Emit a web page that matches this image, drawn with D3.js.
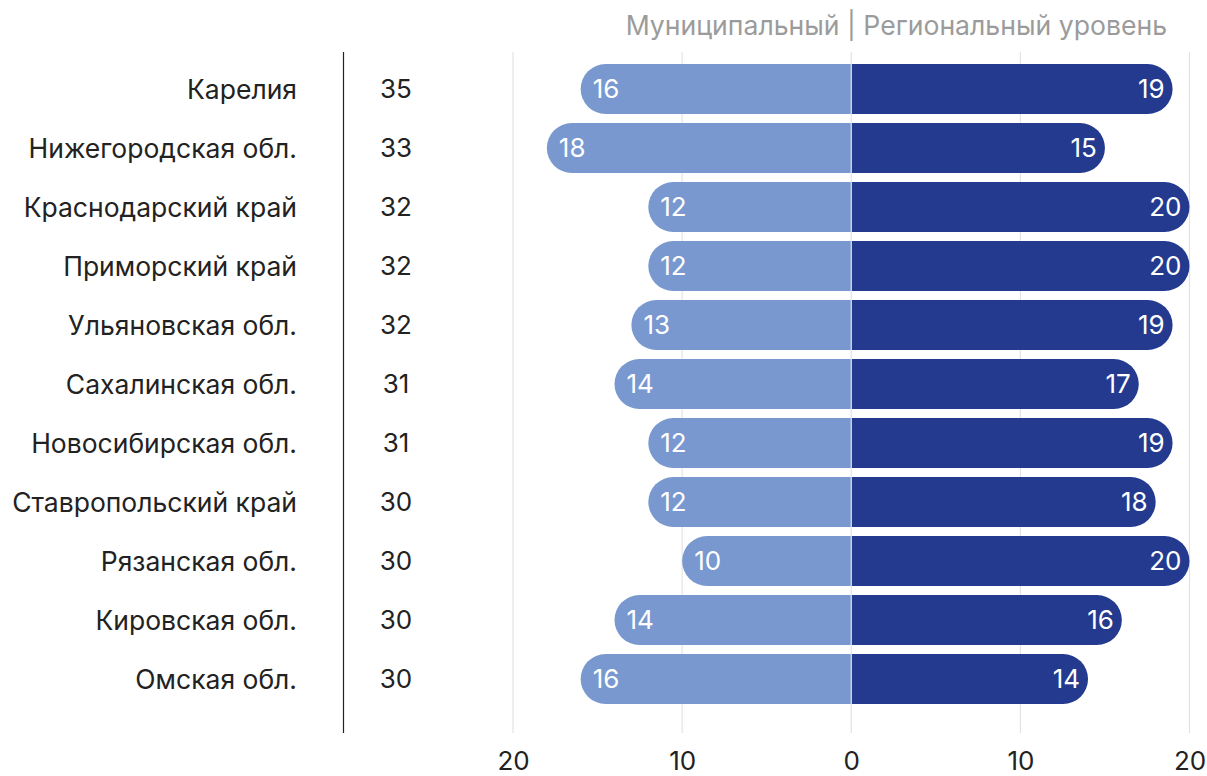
<!DOCTYPE html>
<html><head><meta charset="utf-8">
<script src="https://cdn.jsdelivr.net/npm/d3@7"></script>
<style>body{margin:0;background:#fff;}svg{display:block;font-family:Inter,Roboto,"Noto Sans",sans-serif;}</style>
</head><body><svg id="c" width="1207" height="776"></svg>
<script>
const categories = ["Карелия","Нижегородская обл.","Краснодарский край","Приморский край","Ульяновская обл.","Сахалинская обл.","Новосибирская обл.","Ставропольский край","Рязанская обл.","Кировская обл.","Омская обл."];
const municipal = [16,18,12,12,13,14,12,12,10,14,16];
const regional = [19,15,20,20,19,17,19,18,20,16,14];
const totals = [35,33,32,32,32,31,31,30,30,30,30];
const tickValues = [-20,-10,0,10,20];
const title = "Муниципальный | Региональный уровень";

const svg = d3.select("#c");
const x = d3.scaleLinear().domain([-20,20]).range([513,1189.5]);
const y = d3.scalePoint().domain(categories).range([89,679]);
const bh = 50, r = 25;
const yTop = 52, yBot = 733;

// grid
svg.append("g").selectAll("line").data(tickValues.filter(d=>d!==0)).join("line")
  .attr("x1",d=>x(d)).attr("x2",d=>x(d)).attr("y1",yTop).attr("y2",yBot)
  .attr("stroke","#e3e3e3").attr("stroke-width",1.2);

function barPath(x0, x1, yc){
  const t = yc-bh/2, b = yc+bh/2;
  if (x1 > x0) {
    return `M${x0},${t}H${x1-r}A${r},${r} 0 0 1 ${x1},${yc}A${r},${r} 0 0 1 ${x1-r},${b}H${x0}Z`;
  } else {
    return `M${x0},${t}H${x1+r}A${r},${r} 0 0 0 ${x1},${yc}A${r},${r} 0 0 0 ${x1+r},${b}H${x0}Z`;
  }
}
const g = svg.append("g");
g.selectAll("path.m").data(categories).join("path").attr("class","m")
  .attr("d",(c,i)=>barPath(x(0), x(-municipal[i]), y(c))).attr("fill","#7898cf");
g.selectAll("path.r").data(categories).join("path").attr("class","r")
  .attr("d",(c,i)=>barPath(x(0), x(regional[i]), y(c))).attr("fill","#233a8e");

// zero line
svg.append("line").attr("x1",x(0)).attr("x2",x(0)).attr("y1",yTop).attr("y2",yBot)
  .attr("stroke","#dfe3ea").attr("stroke-width",1.2);

// bar labels
g.selectAll("text.ml").data(categories).join("text").attr("class","ml")
  .attr("x",(c,i)=>x(-municipal[i])+12).attr("y",c=>y(c)).attr("dy","0.36em")
  .attr("fill","#fff").attr("font-size",26).text((c,i)=>municipal[i]);
g.selectAll("text.rl").data(categories).join("text").attr("class","rl")
  .attr("x",(c,i)=>x(regional[i])-8).attr("y",c=>y(c)).attr("dy","0.36em")
  .attr("text-anchor","end").attr("fill","#fff").attr("font-size",26).text((c,i)=>regional[i]);

// category labels
svg.append("g").selectAll("text").data(categories).join("text")
  .attr("x",297).attr("y",c=>y(c)).attr("dy","0.36em").attr("text-anchor","end")
  .attr("fill","#222").attr("font-size",26.5).text(c=>c);
// totals
svg.append("g").selectAll("text").data(categories).join("text")
  .attr("x",396).attr("y",c=>y(c)).attr("dy","0.36em").attr("text-anchor","middle")
  .attr("fill","#222").attr("font-size",26).text((c,i)=>totals[i]);
// separator
svg.append("line").attr("x1",343.5).attr("x2",343.5).attr("y1",yTop).attr("y2",yBot)
  .attr("stroke","#222").attr("stroke-width",1.2);

// axis
const axis = d3.axisBottom(x).tickValues(tickValues).tickFormat(d=>Math.abs(d)).tickSize(0).tickPadding(0);
const ax = svg.append("g").attr("transform",`translate(0,${yBot})`).call(axis);
ax.select(".domain").remove();
ax.selectAll("text").attr("font-size",26).attr("fill","#222").attr("font-family","Inter,Roboto,sans-serif")
  .attr("dy",null).attr("y",37);

// title
svg.append("text").attr("x",1167).attr("y",35).attr("text-anchor","end")
  .attr("fill","#9b9b9b").attr("font-size",26.6).text(title);
</script></body></html>
